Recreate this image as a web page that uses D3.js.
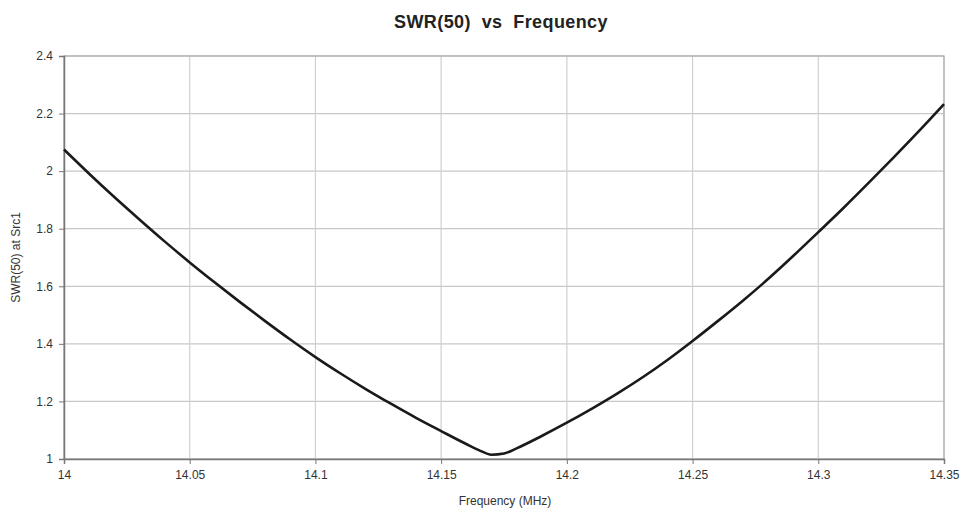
<!DOCTYPE html>
<html>
<head>
<meta charset="utf-8">
<script src="https://cdn.jsdelivr.net/npm/d3@7"></script>
<style>
  body { margin: 0; background: #fff; }
  text { font-family: "Liberation Sans", Arial, sans-serif; }
</style>
</head>
<body>
<svg id="chart" width="965" height="512"></svg>
<script>
// 周波数 (MHz)
const freq = [14.00, 14.01, 14.02, 14.03, 14.04, 14.05, 14.06, 14.07, 14.08, 14.09,
              14.10, 14.11, 14.12, 14.13, 14.14, 14.15, 14.16, 14.165, 14.17, 14.175,
              14.18, 14.19, 14.20, 14.21, 14.22, 14.23, 14.24, 14.25, 14.26, 14.27,
              14.28, 14.29, 14.30, 14.31, 14.32, 14.33, 14.34, 14.35];
// SWR(50)
const swr = [2.075, 1.991, 1.910, 1.832, 1.756, 1.683, 1.613, 1.545, 1.479, 1.415,
             1.354, 1.297, 1.243, 1.192, 1.143, 1.097, 1.052, 1.031, 1.015, 1.019,
             1.037, 1.080, 1.126, 1.175, 1.227, 1.283, 1.344, 1.410, 1.479, 1.550,
             1.625, 1.705, 1.788, 1.872, 1.959, 2.048, 2.139, 2.233];

const xTicks = [14, 14.05, 14.1, 14.15, 14.2, 14.25, 14.3, 14.35];
const yTicks = [1, 1.2, 1.4, 1.6, 1.8, 2, 2.2, 2.4];

const svg = d3.select("#chart");
const plotLeft = 64, plotRight = 944, plotTop = 56, plotBottom = 459;

const x = d3.scaleLinear().domain([14, 14.35]).range([plotLeft, plotRight]);
const y = d3.scaleLinear().domain([1, 2.4]).range([plotBottom, plotTop]);

// グリッド
svg.append("g").selectAll("line").data(yTicks).join("line")
    .attr("x1", plotLeft).attr("x2", plotRight)
    .attr("y1", d => y(d)).attr("y2", d => y(d))
    .attr("stroke", "#c8c8c8").attr("stroke-width", 1.2);
svg.append("g").selectAll("line").data(xTicks).join("line")
    .attr("y1", plotTop).attr("y2", plotBottom)
    .attr("x1", d => x(d)).attr("x2", d => x(d))
    .attr("stroke", "#d0d0d0").attr("stroke-width", 1.2);

// 枠
svg.append("rect")
    .attr("x", plotLeft).attr("y", plotTop)
    .attr("width", plotRight - plotLeft).attr("height", plotBottom - plotTop)
    .attr("fill", "none").attr("stroke", "#aaa").attr("stroke-width", 1.2);

// 軸
const xAxis = svg.append("g")
    .attr("transform", `translate(0,${plotBottom})`)
    .call(d3.axisBottom(x).tickValues(xTicks).tickSize(5).tickPadding(6)
        .tickFormat(d => String(+d.toFixed(2))));
const yAxis = svg.append("g")
    .attr("transform", `translate(${plotLeft},0)`)
    .call(d3.axisLeft(y).tickValues(yTicks).tickSize(5).tickPadding(6)
        .tickFormat(d => String(+d.toFixed(1))));

[xAxis, yAxis].forEach(g => {
    g.select(".domain").attr("stroke", "#777").attr("stroke-width", 1.5);
    g.selectAll(".tick line").attr("stroke", "#777");
    g.selectAll(".tick text")
        .attr("fill", "#333")
        .style("font-size", "12px")
        .style("font-family", "'Liberation Sans', Arial, sans-serif");
});

// 曲線
const line = d3.line()
    .x((d, i) => x(freq[i]))
    .y(d => y(d))
    .curve(d3.curveMonotoneX);

svg.append("path")
    .datum(swr)
    .attr("d", line)
    .attr("fill", "none")
    .attr("stroke", "#1a1a1a")
    .attr("stroke-width", 2.6)
    .attr("stroke-linejoin", "round");

// タイトル
svg.append("text")
    .attr("x", 501).attr("y", 28)
    .attr("text-anchor", "middle")
    .style("font-size", "18px").style("font-weight", "bold")
    .style("letter-spacing", "0.4px")
    .attr("fill", "#222")
    .attr("xml:space", "preserve")
    .text("SWR(50)  vs  Frequency");

svg.append("text")
    .attr("x", 505).attr("y", 505)
    .attr("text-anchor", "middle")
    .style("font-size", "12px")
    .attr("fill", "#333")
    .text("Frequency (MHz)");

svg.append("text")
    .attr("transform", `translate(20,${(plotTop + plotBottom) / 2}) rotate(-90)`)
    .attr("text-anchor", "middle")
    .style("font-size", "12px")
    .attr("fill", "#333")
    .text("SWR(50) at Src1");
</script>
</body>
</html>
